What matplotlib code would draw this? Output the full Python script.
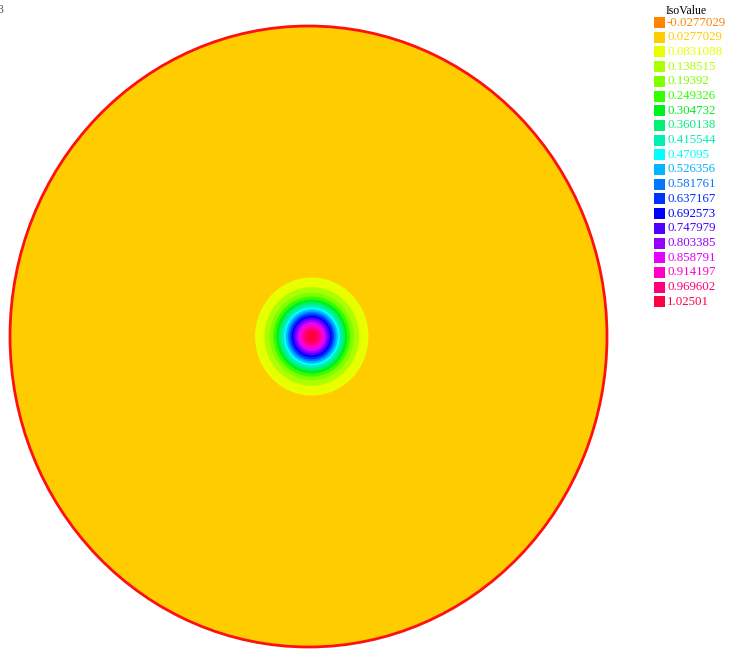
import matplotlib
matplotlib.use("Agg")
import matplotlib.pyplot as plt
from matplotlib.patches import Circle, Rectangle

# === data ===
iso_values = [-0.0277029, 0.0277029, 0.0831088, 0.138515, 0.19392, 0.249326,
              0.304732, 0.360138, 0.415544, 0.47095, 0.526356, 0.581761,
              0.637167, 0.692573, 0.747979, 0.803385, 0.858791, 0.914197,
              0.969602, 1.02501]
iso_labels = ["-0.0277029", "0.0277029", "0.0831088", "0.138515", "0.19392",
              "0.249326", "0.304732", "0.360138", "0.415544", "0.47095",
              "0.526356", "0.581761", "0.637167", "0.692573", "0.747979",
              "0.803385", "0.858791", "0.914197", "0.969602", "1.02501"]
iso_colors = ["#FF8400", "#FFCC00", "#E8FF00", "#AAFF00", "#80FF00", "#33FF00",
              "#00F01E", "#00F078", "#00F0B4", "#00FFFF", "#00B4FF", "#0078FF",
              "#0032FF", "#0000FF", "#5000FF", "#9600FF", "#E600FF", "#FF00C8",
              "#FF0078", "#FF0040"]

# outer radius (mesh units, disc radius = 1) of the band coloured iso_colors[k]
band_index = list(range(2, 20))
band_radius = [0.190, 0.159, 0.141, 0.129, 0.119, 0.110, 0.102, 0.094, 0.087,
               0.080, 0.074, 0.067, 0.061, 0.054, 0.047, 0.039, 0.030, 0.018]
bump_center = (0.011, 0.0)

W, H = 733, 651
fig = plt.figure(figsize=(W / 100, H / 100), dpi=100)
fig.patch.set_facecolor("white")

# disc spans x 10..607, y 26..647 px
ax = fig.add_axes([10 / W, (H - 647) / H, 597 / W, 621 / H])
ax.set_xlim(-1, 1)
ax.set_ylim(-1, 1)
ax.axis("off")

ax.add_patch(Circle((0, 0), 1.0, facecolor=iso_colors[1], edgecolor="none"))
for k, r in zip(band_index, band_radius):
    ax.add_patch(Circle(bump_center, r, facecolor=iso_colors[k], edgecolor="none"))
ax.add_patch(Circle((0, 0), 1.0, facecolor="none", edgecolor="#FF1010",
                    linewidth=2.0, clip_on=False))

# legend
def fx(px):
    return px / W

def fy(py):
    return 1 - py / H

fig.text(fx(666), fy(11), "IsoValue", fontsize=8.5, family="Liberation Serif",
         color="black", va="center", ha="left")
for i, (lab, col) in enumerate(zip(iso_labels, iso_colors)):
    yc = 22.5 + i * 14.7
    fig.patches.append(Rectangle((fx(654), fy(yc + 5.5)), 11 / W, 11 / H,
                                 transform=fig.transFigure, facecolor=col,
                                 edgecolor="none"))
    fig.text(fx(667), fy(yc), lab, fontsize=9.3, family="Liberation Serif",
             color=col, va="center", ha="left")

fig.text(fx(-3), fy(10), "3", fontsize=8.5, family="Liberation Serif",
         color="#555555", va="center", ha="left")

fig.savefig("out.png", dpi=100)
